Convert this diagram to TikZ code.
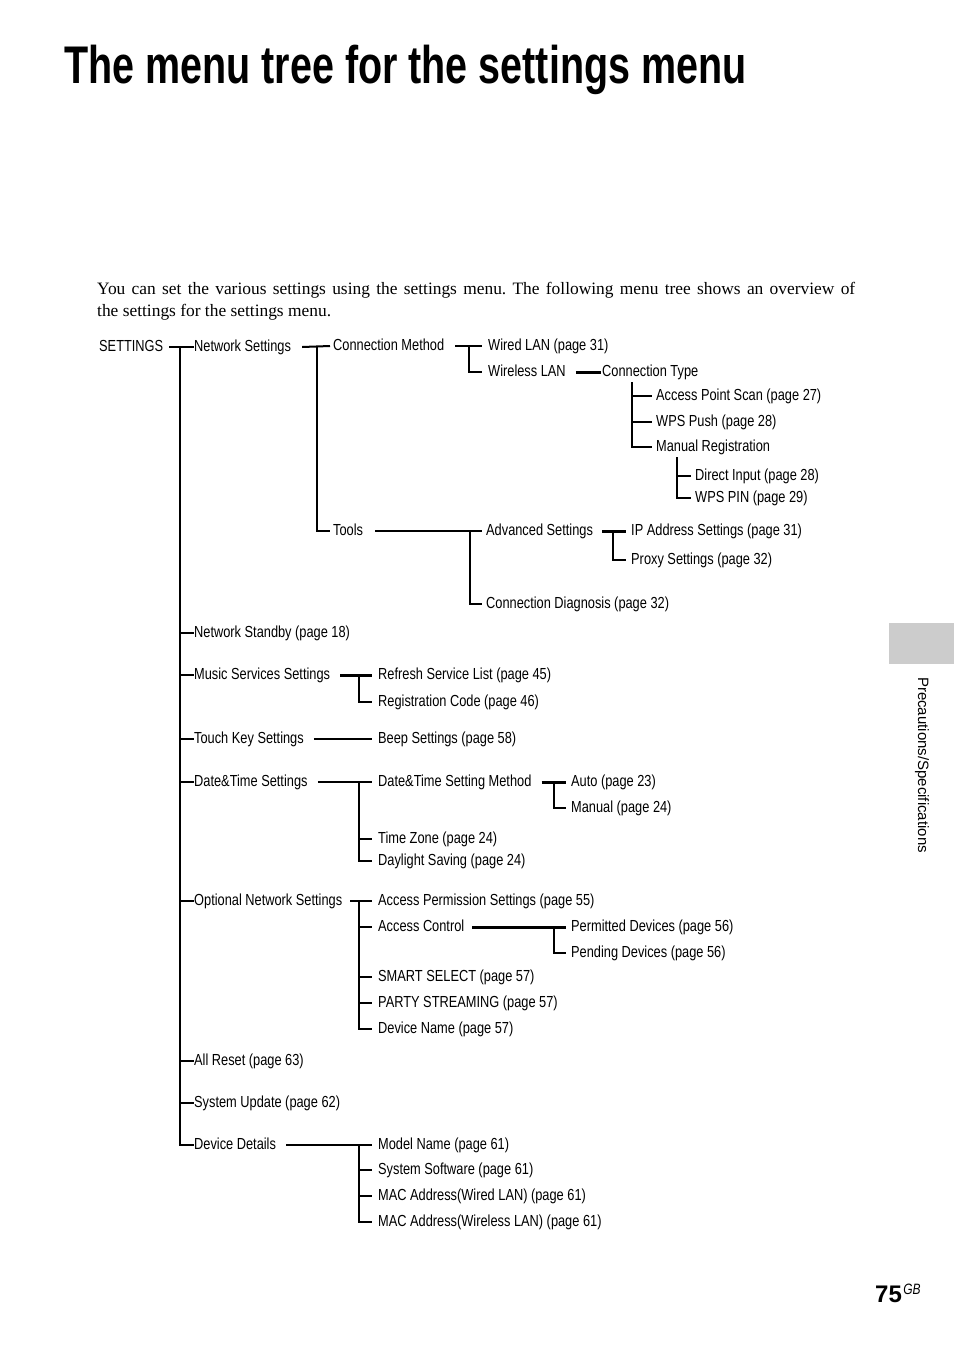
\documentclass[tikz,border=0pt]{standalone}
\usepackage{fontspec}
\setmainfont{Liberation Serif}
\newfontfamily\treefont[FakeStretch=0.8]{Liberation Sans}
\newfontfamily\titlefont[FakeStretch=0.745]{Liberation Sans}
\newfontfamily\tabfont{Liberation Sans}
\usetikzlibrary{positioning}
\definecolor{tabgray}{RGB}{204,204,204}
\frenchspacing
\tikzset{
item/.style={anchor=west,inner sep=0pt,font=\treefont\fontsize{16}{19}\selectfont,
  text height=11.5pt,text depth=3pt},
tree/.style={line width=2pt},
stem/.style={line width=2.6pt},
link/.style={line width=1.7pt},
heavy/.style={line width=3pt}
}

\begin{document}
\begin{tikzpicture}[x=1pt,y=-1pt]
\useasboundingbox (0,0) rectangle (954,1352);
% page head and intro
\node[anchor=base west,inner sep=0pt,font=\titlefont\bfseries\fontsize{53}{60}\selectfont] (title) at (64,83) {The menu tree for the settings menu};
\node[anchor=base west,inner sep=0pt,font=\fontsize{17.4}{22}\selectfont] (intro1) at (97,294) {\makebox[758pt][s]{You can set the various settings using the settings menu. The following menu tree shows an overview of}};
\node[anchor=base west,inner sep=0pt,font=\fontsize{17.4}{22}\selectfont] (intro2) at (97,316) {the settings for the settings menu.};
% side tab and page number
\fill[tabgray] (889,623) rectangle (954,664);
\node[rotate=-90,inner sep=0pt,font=\tabfont\fontsize{15}{18}\selectfont] (tab) at (922,765) {Precautions/Specifications};
\node[anchor=base west,inner sep=0pt,font=\tabfont\bfseries\fontsize{24}{28}\selectfont] (pageno) at (875,1302) {75};
\node[anchor=base west,inner sep=0pt,font=\treefont\itshape\fontsize{15}{18}\selectfont] (gb) at ([xshift=1pt,yshift=8pt]pageno.base east) {GB};
% menu items
\node[item] (settings) at (99,347) {SETTINGS};
\node[item] (netset) at (194,347) {Network Settings};
\node[item] (connmeth) at (333,346) {Connection Method};
\node[item] (wired) at (488,346) {Wired LAN (page 31)};
\node[item] (wireless) at (488,372) {Wireless LAN};
\node[item] (conntype) at (602,372) {Connection Type};
\node[item] (apscan) at (656,396) {Access Point Scan (page 27)};
\node[item] (wpspush) at (656,422) {WPS Push (page 28)};
\node[item] (manreg) at (656,447) {Manual Registration};
\node[item] (direct) at (695,476) {Direct Input (page 28)};
\node[item] (wpspin) at (695,498) {WPS PIN (page 29)};
\node[item] (tools) at (333,531) {Tools};
\node[item] (advset) at (486,531) {Advanced Settings};
\node[item] (ipaddr) at (631,531) {IP Address Settings (page 31)};
\node[item] (proxy) at (631,560) {Proxy Settings (page 32)};
\node[item] (conndiag) at (486,604) {Connection Diagnosis (page 32)};
\node[item] (standby) at (194,633) {Network Standby (page 18)};
\node[item] (music) at (194,675) {Music Services Settings};
\node[item] (refresh) at (378,675) {Refresh Service List (page 45)};
\node[item] (regcode) at (378,702) {Registration Code (page 46)};
\node[item] (touch) at (194,739) {Touch Key Settings};
\node[item] (beep) at (378,739) {Beep Settings (page 58)};
\node[item] (datetime) at (194,782) {Date\&Time Settings};
\node[item] (dtmethod) at (378,782) {Date\&Time Setting Method};
\node[item] (auto) at (571,782) {Auto (page 23)};
\node[item] (manual) at (571,808) {Manual (page 24)};
\node[item] (timezone) at (378,839) {Time Zone (page 24)};
\node[item] (daylight) at (378,861) {Daylight Saving (page 24)};
\node[item] (optnet) at (194,901) {Optional Network Settings};
\node[item] (accperm) at (378,901) {Access Permission Settings (page 55)};
\node[item] (accctrl) at (378,927) {Access Control};
\node[item] (permit) at (571,927) {Permitted Devices (page 56)};
\node[item] (pending) at (571,953) {Pending Devices (page 56)};
\node[item] (smart) at (378,977) {SMART SELECT (page 57)};
\node[item] (party) at (378,1003) {PARTY STREAMING (page 57)};
\node[item] (devname) at (378,1029) {Device Name (page 57)};
\node[item] (allreset) at (194,1061) {All Reset (page 63)};
\node[item] (sysupd) at (194,1103) {System Update (page 62)};
\node[item] (devdet) at (194,1145) {Device Details};
\node[item] (model) at (378,1145) {Model Name (page 61)};
\node[item] (syssoft) at (378,1170) {System Software (page 61)};
\node[item] (macwired) at (378,1196) {MAC Address(Wired LAN) (page 61)};
\node[item] (macwless) at (378,1222) {MAC Address(Wireless LAN) (page 61)};
% main stem
\draw[tree] ([xshift=6pt]settings.east) -- (netset.west);
\coordinate (mainstem) at ([xshift=-14pt]netset.west);
\draw[stem] (mainstem) |- (devdet.west);
\foreach \n in {standby,music,touch,datetime,optnet,allreset,sysupd}
  \draw[tree] (\n.west -| mainstem) -- (\n.west);
% network settings
\draw[tree] ([xshift=11pt]netset.east) -- ([xshift=-3pt]connmeth.west);
\draw[stem] ([xshift=-16pt]connmeth.west) |- ([xshift=-3pt]tools.west);
\draw[tree] ([xshift=11pt]connmeth.east) -- ([xshift=-6pt]wired.west);
\draw[stem] ([xshift=-19pt]wired.west) |- ([xshift=-6pt]wireless.west);
\draw[heavy] ([xshift=10pt]wireless.east) -- ([xshift=-1pt]conntype.west);
\coordinate (ctstem) at ([xshift=30pt,yshift=-3pt]conntype.south west);
\draw[stem] (ctstem) |- ([xshift=-4pt]manreg.west);
\foreach \n in {apscan,wpspush}
  \draw[tree] (\n.west -| ctstem) -- ([xshift=-4pt]\n.west);
\coordinate (mrstem) at ([xshift=21pt,yshift=-3pt]manreg.south west);
\draw[stem] (mrstem) |- ([xshift=-4pt]wpspin.west);
\draw[tree] (direct.west -| mrstem) -- ([xshift=-4pt]direct.west);
\draw[link] ([xshift=12pt]tools.east) -- ([xshift=-4pt]advset.west);
\draw[stem] ([xshift=-16pt]advset.west) |- ([xshift=-4pt]conndiag.west);
\draw[heavy] ([xshift=9pt]advset.east) -- ([xshift=-5pt]ipaddr.west);
\draw[stem] ([xshift=-18pt]ipaddr.west) |- ([xshift=-5pt]proxy.west);
% music, touch key, date and time
\draw[heavy] ([xshift=10pt]music.east) -- ([xshift=-6pt]refresh.west);
\draw[stem] ([xshift=-19pt]refresh.west) |- ([xshift=-6pt]regcode.west);
\draw[link] ([xshift=10pt]touch.east) -- ([xshift=-6pt]beep.west);
\draw[link] ([xshift=10pt]datetime.east) -- ([xshift=-6pt]dtmethod.west);
\draw[stem] ([xshift=-19pt]dtmethod.west) |- ([xshift=-6pt]daylight.west);
\draw[tree] ([xshift=-19pt]timezone.west) -- ([xshift=-6pt]timezone.west);
\draw[heavy] ([xshift=10pt]dtmethod.east) -- ([xshift=-5pt]auto.west);
\draw[stem] ([xshift=-17pt]auto.west) |- ([xshift=-5pt]manual.west);
% optional network settings
\draw[link] ([xshift=8pt]optnet.east) -- ([xshift=-6pt]accperm.west);
\coordinate (onstem) at ([xshift=-19pt]accperm.west);
\draw[stem] (onstem) |- ([xshift=-6pt]devname.west);
\foreach \n in {accctrl,smart,party}
  \draw[tree] (\n.west -| onstem) -- ([xshift=-6pt]\n.west);
\draw[heavy] ([xshift=8pt]accctrl.east) -- ([xshift=-5pt]permit.west);
\draw[stem] ([xshift=-17pt]permit.west) |- ([xshift=-5pt]pending.west);
% device details
\draw[link] ([xshift=10pt]devdet.east) -- ([xshift=-6pt]model.west);
\coordinate (ddstem) at ([xshift=-19pt]model.west);
\draw[stem] (ddstem) |- ([xshift=-6pt]macwless.west);
\foreach \n in {syssoft,macwired}
  \draw[tree] (\n.west -| ddstem) -- ([xshift=-6pt]\n.west);
\end{tikzpicture}
\end{document}
